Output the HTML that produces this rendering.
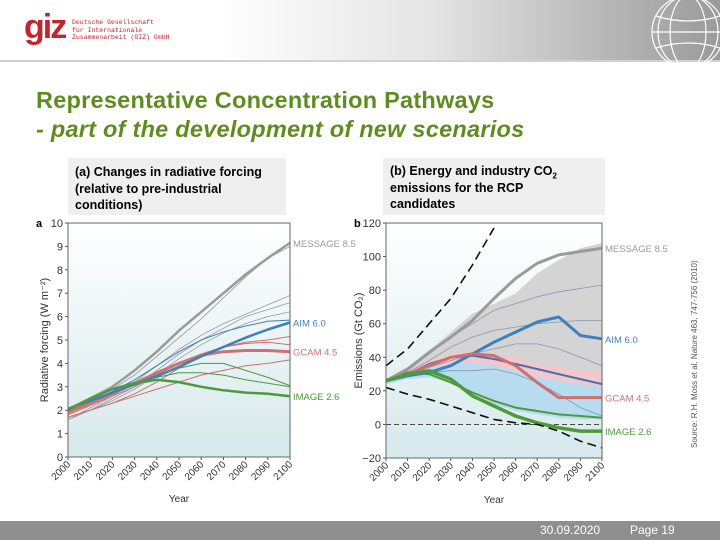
<!DOCTYPE html>
<html><head><meta charset="utf-8"><style>
body{margin:0;width:720px;height:540px;overflow:hidden;background:#fff;font-family:"Liberation Sans",sans-serif;position:relative}
.abs{position:absolute}
sub{line-height:0;font-size:8px}
</style></head><body>
<div class="abs" style="left:0;top:0;width:720px;height:60px;background:linear-gradient(90deg,#fff 0%,#fff 30%,#e4e4e4 60%,#9a9a9a 100%)"></div>
<div class="abs" style="left:0;top:60px;width:720px;height:2px;background:#d0d0d0"></div>
<div class="abs" style="left:24px;top:8px;font:bold 34px 'Liberation Sans',sans-serif;color:#c0262d;letter-spacing:-2px">giz</div>
<div class="abs" style="left:72px;top:19px;font:6.5px 'Liberation Mono',monospace;color:#c0262d;line-height:7.5px">Deutsche Gesellschaft<br>für Internationale<br>Zusammenarbeit (GIZ) GmbH</div>
<svg class="abs" style="left:640px;top:0" width="80" height="62"><g fill="none" stroke="#fff" stroke-width="1.2"><circle cx="48" cy="32" r="36"/><ellipse cx="48" cy="32" rx="18" ry="36"/><ellipse cx="48" cy="32" rx="30" ry="36"/><line x1="12" y1="32" x2="84" y2="32"/><path d="M16 16 Q48 26 80 16 M16 48 Q48 38 80 48"/></g></svg>
<div class="abs" style="left:36px;top:86px;font:bold 23.5px 'Liberation Sans',sans-serif;color:#5f8c1f;line-height:29px;white-space:nowrap;letter-spacing:0.25px">Representative Concentration Pathways<br><i>- part of the development of new scenarios</i></div>
<div class="abs" style="left:68px;top:158px;width:218px;height:57px;background:#efefef;font:bold 12.5px 'Liberation Sans',sans-serif;padding:6px 0 0 7px;box-sizing:border-box;line-height:16.5px">(a) Changes in radiative forcing<br>(relative to pre-industrial<br>conditions)</div>
<div class="abs" style="left:383px;top:158px;width:222px;height:57px;background:#efefef;font:bold 12.5px 'Liberation Sans',sans-serif;padding:5px 0 0 7px;box-sizing:border-box;line-height:16.5px">(b) Energy and industry CO<sub>2</sub><br>emissions for the RCP<br>candidates</div>
<div class="abs" style="left:690px;top:448px;transform:rotate(-90deg);transform-origin:0 0;font:8px 'Liberation Sans',sans-serif;color:#555;white-space:nowrap">Source: R.H. Moss et al, Nature 463, 747-756 (2010)</div>
<div class="abs" style="left:0;top:521px;width:720px;height:19px;background:#8f8f8f;color:#fff;font:12px 'Liberation Sans',sans-serif">
<span class="abs" style="left:540px;top:2px">30.09.2020</span>
<span class="abs" style="left:630px;top:2px">Page 19</span></div>
<svg id="chart" class="abs" style="left:0;top:0" width="720" height="540"></svg>
<script>
const years=[2000,2010,2020,2030,2040,2050,2060,2070,2080,2090,2100];
// chart a values (W m-2)
const aMessage=[2.05,2.5,3.0,3.7,4.5,5.4,6.2,7.0,7.8,8.5,9.15];
const aAim=[2.05,2.4,2.75,3.1,3.45,3.85,4.3,4.7,5.1,5.45,5.75];
const aGcam=[1.9,2.3,2.7,3.15,3.6,4.0,4.35,4.5,4.55,4.55,4.5];
const aImage=[2.0,2.5,2.9,3.15,3.3,3.2,3.0,2.85,2.75,2.7,2.6];
const aGrey1=[1.6,2.1,2.6,3.2,3.9,4.6,5.2,5.7,6.1,6.5,6.9];
const aGrey2=[1.6,2.0,2.5,3.0,3.7,4.4,5.0,5.5,6.0,6.3,6.6];
const aGrey3=[1.6,2.0,2.4,2.9,3.5,4.2,4.8,5.3,5.7,6.0,6.2];
const aGrey4=[2.0,2.4,2.9,3.5,4.3,5.1,5.9,6.8,7.7,8.5,9.0];
const aBlue1=[2.0,2.4,2.8,3.3,3.9,4.5,5.0,5.35,5.6,5.8,5.85];
const aRed1=[1.7,2.0,2.3,2.7,3.2,3.8,4.3,4.7,4.9,5.0,5.15];
const aRed2=[1.7,2.0,2.3,2.6,2.9,3.2,3.5,3.7,3.9,4.0,4.15];
const aRed3=[1.8,2.2,2.6,3.0,3.5,4.0,4.4,4.7,4.85,4.9,4.8];
const aGreen1=[2.0,2.5,2.9,3.2,3.5,3.8,4.0,4.0,3.7,3.4,3.05];
const aGreen2=[2.0,2.5,2.9,3.2,3.4,3.6,3.6,3.5,3.3,3.15,3.0];
const aTicks=[0,1,2,3,4,5,6,7,8,9,10];
// chart b values (Gt CO2)
const bMessage=[26,33,43,52,62,75,87,96,101,103,105];
const bAim=[26,29,31,35,42,49,55,61,64,53,51];
const bGcam=[26,30,35,40,42,41,35,25,16,16,16];
const bImage=[26,30,32,27,17,11,5,1,-2,-4,-4];
const bBlue1=[26,30,36,40,41,39,36,33,30,27,24];
const bGreen1=[26,31,30,25,19,14,10,8,6,5,4];
const bGrey1=[26,32,42,52,60,68,72,76,79,81,83];
const bGrey2=[26,31,38,46,52,56,58,60,61,62,62];
const bGrey3=[26,30,34,38,42,45,48,48,45,40,35];
const bGrey4=[26,29,31,32,32,33,30,25,18,10,5];
const bGreyUp=[26,34,44,55,66,72,78,90,98,105,108];
const bGreyLo=[25,28,32,35,38,40,38,35,33,32,30];
const bBlueUp=[27,33,38,40,40,40,37,35,33,32,30];
const bBlueLo=[24,27,28,25,18,12,8,6,4,3,3];
const bPinkUp=[26,34,38,42,44,42,40,36,34,32,31];
const bPinkLo=[25,30,34,36,37,35,32,28,26,24,22];
const bDashUpYears=[2000,2010,2020,2030,2040,2050];
const bDashUp=[35,45,60,75,95,117];
const bDashLo=[22,18,15,11,7,3,1,0,-4,-10,-14];
const bTicks=[-20,0,20,40,60,80,100,120];

const svg=document.getElementById('chart');const NS='http://www.w3.org/2000/svg';
function el(t,a,p){const e=document.createElementNS(NS,t);for(const k in a)e.setAttribute(k,a[k]);(p||svg).appendChild(e);return e;}
function mk(x0,x1,y0,y1,v0,v1){return{x:y=>x0+(y-2000)/100*(x1-x0),y:v=>y0+(v-v0)/(v1-v0)*(y1-y0)};}
const A=mk(68,290,457,223,0,10), B=mk(386,602,458,223,-20,120);
function pts(S,xs,vs){return xs.map((x,i)=>S.x(x).toFixed(1)+','+S.y(vs[i]).toFixed(1)).join(' ');}
function line(S,vs,col,w,name,dash,xs){const e=el('polyline',{points:pts(S,xs||years,vs),fill:'none',stroke:col,'stroke-width':w,'stroke-linejoin':'round'});if(dash)e.setAttribute('stroke-dasharray',dash);

return e;}
function band(S,up,lo,col,name){const p=pts(S,years,up)+' '+pts(S,years.slice().reverse(),lo.slice().reverse());const e=el('polygon',{points:p,fill:col});

}
function txt(x,y,s,o){const e=el('text',Object.assign({x:x,y:y,'font-family':'Liberation Sans, sans-serif','font-size':10,fill:'#333'},o||{}));e.textContent=s;return e;}
const defs=el('defs',{});const g=el('linearGradient',{id:'bg',x1:0,y1:0,x2:0,y2:1},defs);
el('stop',{offset:'0','stop-color':'#ffffff'},g);el('stop',{offset:'1','stop-color':'#d6e9ec'},g);
function axes(S,x0,x1,yTop,yBot,ticks,label,letter,lx){
 const bg=el('rect',{x:x0,y:yTop,width:x1-x0,height:yBot-yTop,fill:'url(#bg)'});
 
 
 ticks.forEach(t=>{const y=S.y(t);el('line',{x1:x0-3,x2:x0,y1:y,y2:y,stroke:'#555'});const tl=txt(x0-5,y+4,t<0?'\u2212'+(-t):String(t),{'text-anchor':'end','font-size':11});
 
 });
 years.forEach(yr=>{const x=S.x(yr);el('line',{x1:x,x2:x,y1:yBot,y2:yBot+3,stroke:'#555'});const tl=txt(x+3,yBot+8,String(yr),{'text-anchor':'end','font-size':10,transform:`rotate(-45 ${x+3} ${yBot+8})`});
 
 });
 const xt=txt((x0+x1)/2,yBot+45,'Year',{'text-anchor':'middle'});
 
 
 const yt=txt(lx,(yTop+yBot)/2,label,{'text-anchor':'middle','font-size':11,transform:`rotate(-90 ${lx} ${(yTop+yBot)/2})`});
 
 
 const lt=txt(x0-32,yTop+4,letter,{'font-weight':'bold','font-size':11,fill:'#000'});
 
 
}
function frame(x0,x1,yTop,yBot){el('polyline',{points:`${x1},${yTop} ${x0},${yTop} ${x0},${yBot} ${x1},${yBot} ${x1},${yTop}`,fill:'none',stroke:'#666','stroke-width':1});}
// chart a
axes(A,68,290,223,457,aTicks,'Radiative forcing (W m\u207B\u00B2)','a',48);
const G='#9a9a9a',BL='#3d80bd',RD='#cf7070',GR='#4c9a3a';
[aGrey1,aGrey2,aGrey3,aGrey4].forEach(v=>line(A,v,G,0.8,'a-grey-run'));
line(A,aBlue1,BL,1,'a-blue-run');
[aRed1,aRed2,aRed3].forEach(v=>line(A,v,RD,1,'a-red-run'));
[aGreen1,aGreen2].forEach(v=>line(A,v,GR,1,'a-green-run'));
line(A,aMessage,G,2.5,'a-message-85');line(A,aGcam,RD,3,'a-gcam-45');line(A,aAim,BL,2.5,'a-aim-60');line(A,aImage,GR,2.5,'a-image-26');
frame(68,290,223,457);
[[aMessage,'MESSAGE 8.5',G],[aAim,'AIM 6.0',BL],[aGcam,'GCAM 4.5',RD],[aImage,'IMAGE 2.6',GR]].forEach(([v,s,c])=>{const t=txt(293,A.y(v[10])+4,s,{fill:c,'font-size':9.5});

});
// chart b
axes(B,386,602,223,458,bTicks,'Emissions (Gt CO\u2082)','b',362);
band(B,bGreyUp,bGreyLo,'#d4d4d4','b-grey-range');band(B,bBlueUp,bBlueLo,'#b7dcef','b-blue-range');band(B,bPinkUp,bPinkLo,'#f2c8cc','b-pink-range');
el('line',{x1:386,x2:602,y1:B.y(0),y2:B.y(0),stroke:'#333','stroke-width':0.8,'stroke-dasharray':'5,3'});
[bGrey1,bGrey2,bGrey3,bGrey4].forEach(v=>line(B,v,'#8a96a8',0.8,'b-grey-run'));
line(B,bBlue1,'#4a6fb0',2,'b-blue-run');line(B,bGreen1,GR,2,'b-green-run');
line(B,bMessage,G,3,'b-message-85');line(B,bAim,BL,3,'b-aim-60');line(B,bGcam,RD,3,'b-gcam-45');line(B,bImage,GR,3.5,'b-image-26');
line(B,bDashUp,'#111',1.6,'b-upper-dashed-bound','9,5',bDashUpYears);
line(B,bDashLo,'#111',1.6,'b-lower-dashed-bound','9,5');
frame(386,602,223,458);
[[bMessage,'MESSAGE 8.5',G],[bAim,'AIM 6.0',BL],[bGcam,'GCAM 4.5',RD],[bImage,'IMAGE 2.6',GR]].forEach(([v,s,c])=>{const t=txt(605,B.y(v[10])+4,s,{fill:c,'font-size':9.5});

});
</script>
</body></html>
